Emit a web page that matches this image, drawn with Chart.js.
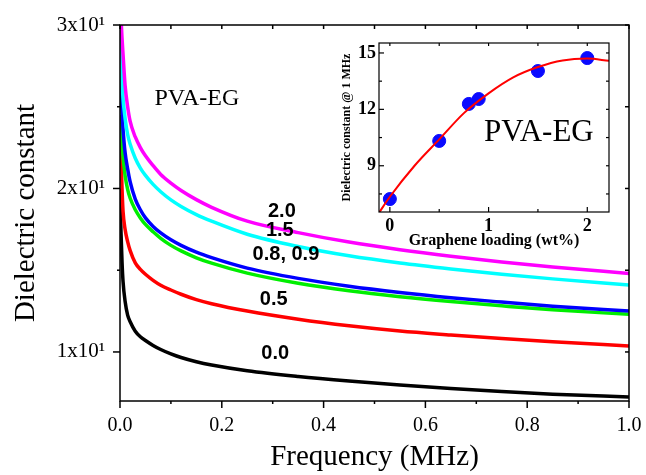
<!DOCTYPE html>
<html>
<head>
<meta charset="utf-8">
<script src="https://cdn.jsdelivr.net/npm/chart.js@4.4.0/dist/chart.umd.min.js"></script>
<style>
  html, body { margin: 0; padding: 0; background: #fff; }
  #wrap { position: relative; width: 646px; height: 475px; }
  #main-chart { position: absolute; left: 0; top: 0; }
  #inset-chart { position: absolute; left: 330px; top: 35px; }
</style>
</head>
<body>
<div id="wrap">
  <canvas id="main-chart" width="646" height="475"></canvas>
  <canvas id="inset-chart" width="290" height="215"></canvas>
</div>
<script>
// datos de la grafica principal (frecuencia en MHz)
const frequency = [0, 0.001, 0.002, 0.004, 0.006, 0.01, 0.015, 0.02, 0.03, 0.04, 0.05, 0.065, 0.08, 0.1, 0.12, 0.15, 0.18, 0.25, 0.35, 0.45, 0.55, 0.65, 0.75, 0.85, 1.0];
const eps00 = [20, 18.5, 17.3, 15.5, 14.3, 13.1, 12.25, 11.85, 11.27, 10.93, 10.7, 10.4, 10.15, 9.88, 9.66, 9.4, 9.2, 8.85, 8.5, 8.22, 7.98, 7.77, 7.58, 7.42, 7.25];
const eps05 = [23, 22.6, 22.0, 20.0, 18.6, 17.5, 16.75, 16.2, 15.45, 15.05, 14.75, 14.38, 14.08, 13.79, 13.53, 13.2, 12.95, 12.5, 12.0, 11.6, 11.28, 11.04, 10.82, 10.63, 10.37];
const eps08 = [24.5, 24.2, 23.6, 22.6, 21.9, 20.8, 19.95, 19.4, 18.7, 18.2, 17.8, 17.35, 16.95, 16.52, 16.18, 15.76, 15.43, 14.82, 14.2, 13.74, 13.38, 13.08, 12.82, 12.58, 12.3];
const eps09 = [27.5, 27, 26.2, 24.6, 23.6, 22.2, 21.2, 20.4, 19.35, 18.7, 18.2, 17.68, 17.28, 16.86, 16.52, 16.1, 15.77, 15.13, 14.5, 14.02, 13.64, 13.32, 13.05, 12.8, 12.5];
const eps15 = [30.5, 29.8, 28.8, 26.6, 25.5, 24.3, 23.3, 22.7, 21.85, 21.25, 20.8, 20.25, 19.8, 19.3, 18.9, 18.4, 18.0, 17.2, 16.45, 15.88, 15.44, 15.08, 14.76, 14.47, 14.1];
const eps20 = [32, 31.5, 30.5, 29.2, 28.2, 26.3, 25.0, 24.1, 23.15, 22.5, 22.0, 21.4, 20.86, 20.33, 19.88, 19.32, 18.85, 18.0, 17.3, 16.72, 16.25, 15.85, 15.5, 15.2, 14.8];
const xTicks = [0, 0.2, 0.4, 0.6, 0.8, 1.0];
const yTicks = [10, 20, 30];

// datos del inset
const loading = [0, 0.5, 0.8, 0.9, 1.5, 2.0];
const eps1MHz = [7.23, 10.32, 12.29, 12.55, 14.04, 14.73];
const fitLoading = [-0.11, 0, 0.25, 0.5, 0.75, 1.0, 1.25, 1.5, 1.75, 2.0, 2.22];
const fitEps = [6.5, 7.35, 9.0, 10.4, 11.8, 12.85, 13.7, 14.25, 14.6, 14.7, 14.58];
const insetXTicks = [0, 1, 2];
const insetYTicks = [9, 12, 15];

const serif = '"Liberation Serif", "Times New Roman", serif';
const sans = '"Liberation Sans", Arial, sans-serif';
Chart.defaults.color = '#000';

const pts = arr => arr.map((v, i) => ({ x: frequency[i], y: v }));

// marco y marcas de los ejes
const frameTicks = {
  id: 'frameTicks',
  afterDraw(chart, args, o) {
    const { ctx, chartArea: a, scales: { x, y } } = chart;
    ctx.save();
    ctx.strokeStyle = '#000';
    ctx.lineWidth = o.lineWidth;
    ctx.strokeRect(a.left, a.top, a.right - a.left, a.bottom - a.top);
    const mark = (x1, y1, x2, y2) => { ctx.beginPath(); ctx.moveTo(x1, y1); ctx.lineTo(x2, y2); ctx.stroke(); };
    o.xMajor.forEach(v => { const p = x.getPixelForValue(v); mark(p, a.bottom, p, a.bottom + o.bottomMajor); mark(p, a.top, p, a.top + o.topLen); });
    o.xMinor.forEach(v => { const p = x.getPixelForValue(v); mark(p, a.bottom, p, a.bottom + o.bottomMinor); mark(p, a.top, p, a.top + o.topLen); });
    o.yMajor.forEach(v => { const p = y.getPixelForValue(v); mark(a.left, p, a.left - o.leftMajor, p); mark(a.right, p, a.right - o.rightLen, p); });
    o.yMinor.forEach(v => { const p = y.getPixelForValue(v); mark(a.left, p, a.left - o.leftMinor, p); mark(a.right, p, a.right - o.rightLen, p); });
    ctx.restore();
  }
};

// etiquetas dentro de la grafica principal
const curveLabels = {
  id: 'curveLabels',
  afterDatasetsDraw(chart) {
    const { ctx, scales: { x, y } } = chart;
    ctx.save();
    ctx.textAlign = 'center';
    ctx.textBaseline = 'middle';
    ctx.fillStyle = '#000';
    ctx.font = 'bold 20px ' + sans;
    ctx.fillText('2.0', x.getPixelForValue(0.318), y.getPixelForValue(18.6));
    ctx.fillText('1.5', x.getPixelForValue(0.314), y.getPixelForValue(17.44));
    ctx.fillText('0.8, 0.9', x.getPixelForValue(0.326), y.getPixelForValue(15.98));
    ctx.fillText('0.5', x.getPixelForValue(0.302), y.getPixelForValue(13.23));
    ctx.fillText('0.0', x.getPixelForValue(0.305), y.getPixelForValue(9.88));
    ctx.font = '24px ' + serif;
    ctx.fillText('PVA-EG', x.getPixelForValue(0.151), y.getPixelForValue(25.5));
    ctx.restore();
  }
};

const lineStyle = color => ({
  borderColor: color,
  backgroundColor: color,
  borderWidth: 3.5,
  pointRadius: 0,
  cubicInterpolationMode: 'monotone',
  clip: 0
});

const mainChart = new Chart(document.querySelector('#main-chart'), {
  type: 'line',
  data: {
    datasets: [
      { label: '2.0', data: pts(eps20), ...lineStyle('#ff00ff') },
      { label: '1.5', data: pts(eps15), ...lineStyle('#00ffff') },
      { label: '0.9', data: pts(eps09), ...lineStyle('#0000ff') },
      { label: '0.8', data: pts(eps08), ...lineStyle('#00ee00') },
      { label: '0.5', data: pts(eps05), ...lineStyle('#ff0000') },
      { label: '0.0', data: pts(eps00), ...lineStyle('#000000') }
    ]
  },
  options: {
    responsive: false,
    animation: false,
    layout: { padding: { top: 25, right: 17, left: 0, bottom: 0 } },
    plugins: {
      legend: { display: false },
      tooltip: { enabled: false },
      frameTicks: {
        lineWidth: 1.5,
        xMajor: xTicks, xMinor: [0.1, 0.3, 0.5, 0.7, 0.9],
        yMajor: yTicks, yMinor: [15, 25],
        bottomMajor: 7, bottomMinor: 3, topLen: 4,
        leftMajor: 7, leftMinor: 3, rightLen: 4
      }
    },
    scales: {
      x: {
        type: 'linear', min: 0, max: 1,
        grid: { display: false, drawTicks: false },
        border: { display: false },
        afterBuildTicks: s => { s.ticks = xTicks.map(v => ({ value: v })); },
        afterFit: s => { s.height = 74; s.paddingLeft = 0; s.paddingRight = 0; },
        ticks: { padding: 13, font: { family: serif, size: 20 }, callback: v => v.toFixed(1) },
        title: { display: true, text: 'Frequency (MHz)', font: { family: serif, size: 29 }, padding: { top: 0, bottom: 0 } }
      },
      y: {
        type: 'linear', min: 7, max: 30,
        grid: { display: false, drawTicks: false },
        border: { display: false },
        afterBuildTicks: s => { s.ticks = yTicks.map(v => ({ value: v })); },
        afterFit: s => { s.width = 120; s.paddingTop = 0; s.paddingBottom = 0; },
        ticks: { padding: 15, font: { family: serif, size: 21 }, callback: v => (v / 10) + 'x10\u00B9' },
        title: { display: true, text: 'Dielectric constant', font: { family: serif, size: 29 }, padding: { top: 9, bottom: 0 } }
      }
    }
  },
  plugins: [frameTicks, curveLabels]
});

// Inset
const insetText = {
  id: 'insetText',
  afterDatasetsDraw(chart) {
    const { ctx, scales: { x, y } } = chart;
    ctx.save();
    ctx.textAlign = 'center';
    ctx.textBaseline = 'middle';
    ctx.fillStyle = '#000';
    ctx.font = '31px ' + serif;
    ctx.fillText('PVA-EG', x.getPixelForValue(1.51), y.getPixelForValue(10.75));
    ctx.restore();
  }
};

const insetChart = new Chart(document.querySelector('#inset-chart'), {
  type: 'scatter',
  data: {
    datasets: [
      {
        type: 'line',
        data: fitLoading.map((v, i) => ({ x: v, y: fitEps[i] })),
        borderColor: '#ff0000',
        borderWidth: 2,
        pointRadius: 0,
        cubicInterpolationMode: 'monotone',
        clip: 0
      },
      {
        data: loading.map((v, i) => ({ x: v, y: eps1MHz[i] })),
        backgroundColor: '#0a0aff',
        borderColor: '#0a0aff',
        pointRadius: 6.5,
        pointHoverRadius: 6.5
      }
    ]
  },
  options: {
    responsive: false,
    animation: false,
    layout: { padding: { top: 8, right: 11, left: 0, bottom: 0 } },
    plugins: {
      legend: { display: false },
      tooltip: { enabled: false },
      frameTicks: {
        lineWidth: 1.2,
        xMajor: insetXTicks, xMinor: [0.5, 1.5],
        yMajor: insetYTicks, yMinor: [7.5, 10.5, 13.5],
        bottomMajor: -5, bottomMinor: -3, topLen: 3,
        leftMajor: -5, leftMinor: -3, rightLen: 3
      }
    },
    scales: {
      x: {
        type: 'linear', min: -0.11, max: 2.22,
        grid: { display: false, drawTicks: false },
        border: { display: false },
        afterBuildTicks: s => { s.ticks = insetXTicks.map(v => ({ value: v })); },
        afterFit: s => { s.height = 38; s.paddingLeft = 0; s.paddingRight = 0; },
        ticks: { padding: 4, font: { family: serif, size: 18, weight: 'bold' } },
        title: { display: true, text: 'Graphene loading (wt%)', font: { family: serif, size: 16, weight: 'bold' }, padding: { top: 0, bottom: 0 } }
      },
      y: {
        type: 'linear', min: 6.54, max: 15.53,
        grid: { display: false, drawTicks: false },
        border: { display: false },
        afterBuildTicks: s => { s.ticks = insetYTicks.map(v => ({ value: v })); },
        afterFit: s => { s.width = 49; s.paddingTop = 0; s.paddingBottom = 0; },
        ticks: { padding: 3, font: { family: serif, size: 18, weight: 'bold' } },
        title: { display: true, text: 'Dielectric constant @ 1 MHz', font: { family: serif, size: 12, weight: 'bold' }, padding: { top: 10, bottom: 0 } }
      }
    }
  },
  plugins: [frameTicks, insetText]
});
</script>
</body>
</html>
